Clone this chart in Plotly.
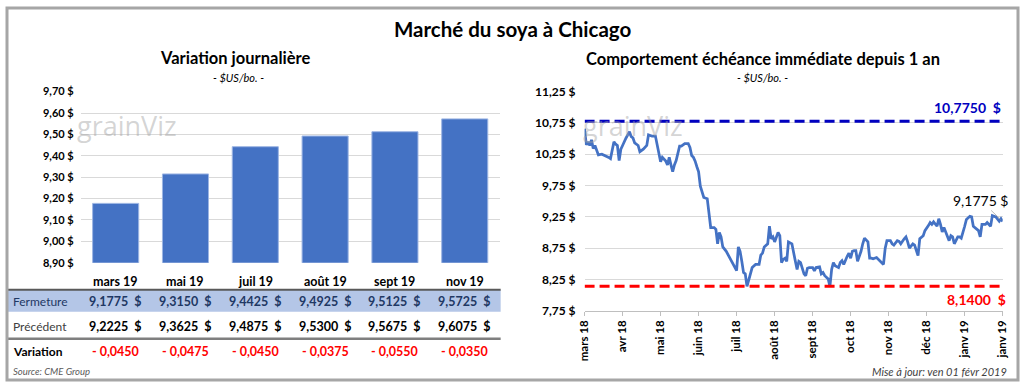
import plotly.graph_objects as go

# ---------------- DATA ----------------
categories = ["mars 19", "mai 19", "juil 19", "août 19", "sept 19", "nov 19"]
fermeture = [9.1775, 9.3150, 9.4425, 9.4925, 9.5125, 9.5725]
precedent = [9.2225, 9.3625, 9.4875, 9.5300, 9.5675, 9.6075]

# front-month price over one year (session number, $US/bo.)
sessions = [0, 1, 2, 3, 4, 5, 6, 8, 10, 12, 14, 15, 16, 17, 18, 19, 20, 21, 22, 23,
            24, 25, 26, 27, 28, 29, 31, 32, 34, 36, 37, 38, 39, 41, 42, 43, 44, 45, 47, 48,
            49, 50, 51, 52, 53, 55, 56, 58, 60, 61, 62, 63, 64, 65, 66, 67, 68, 69, 71, 72,
            73, 75, 76, 77, 78, 79, 80, 82, 84, 86, 88, 89, 90, 91, 92, 93, 94, 95, 96, 97,
            99, 101, 102, 103, 104, 106, 107, 108, 109, 110, 112, 113, 114, 115, 116, 117, 118, 120, 122, 123,
            124, 125, 127, 128, 129, 130, 132, 133, 134, 136, 137, 138, 139, 141, 142, 143, 144, 145, 147, 148,
            149, 150, 152, 153, 154, 155, 156, 157, 158, 160, 161, 162, 164, 165, 166, 167, 169, 170, 172, 173,
            174, 175, 177, 178, 179, 181, 182, 183, 185, 186, 187, 188, 190, 191, 193, 194, 196, 197, 199, 200,
            201, 202, 204, 205, 206, 207, 208, 209, 211, 212, 213, 214, 216, 217, 218, 220, 221, 223, 224, 225,
            227, 228, 229, 230, 232, 233, 235, 236, 238, 239, 240, 241, 242]
prices = [10.66, 10.40, 10.45, 10.39, 10.48, 10.34, 10.39, 10.24, 10.25, 10.23, 10.20, 10.18, 10.33, 10.45, 10.41, 10.39, 10.15, 10.33, 10.39, 10.46,
          10.51, 10.56, 10.61, 10.53, 10.51, 10.43, 10.39, 10.29, 10.33, 10.39, 10.56, 10.55, 10.54, 10.54, 10.41, 10.28, 10.13, 10.20, 10.14, 10.08,
          10.20, 10.08, 9.97, 10.08, 10.15, 10.38, 10.38, 10.42, 10.42, 10.36, 10.23, 10.20, 10.14, 10.05, 9.97, 9.74, 9.64, 9.56, 9.54, 9.31,
          9.08, 9.08, 9.05, 8.82, 9.00, 8.93, 8.77, 8.70, 8.59, 8.49, 8.39, 8.77, 8.70, 8.54, 8.36, 8.34, 8.14, 8.24, 8.34, 8.44,
          8.49, 8.49, 8.64, 8.67, 8.77, 8.82, 9.10, 8.90, 8.93, 8.85, 9.00, 8.95, 8.52, 8.57, 8.59, 8.54, 8.85, 8.82, 8.54, 8.41,
          8.54, 8.52, 8.34, 8.31, 8.43, 8.44, 8.44, 8.39, 8.44, 8.45, 8.34, 8.36, 8.31, 8.26, 8.14, 8.41, 8.52, 8.47, 8.44, 8.52,
          8.55, 8.49, 8.62, 8.67, 8.59, 8.70, 8.71, 8.71, 8.54, 8.70, 8.82, 8.91, 8.85, 8.59, 8.59, 8.58, 8.60, 8.57, 8.52, 8.49,
          8.75, 8.87, 8.87, 8.82, 8.80, 8.87, 8.86, 8.82, 8.90, 8.93, 8.85, 8.75, 8.82, 8.80, 8.63, 8.90, 8.95, 9.03, 9.11, 9.16,
          9.13, 9.17, 9.10, 9.22, 9.13, 9.01, 9.08, 9.00, 8.87, 8.95, 8.93, 8.82, 8.93, 8.93, 8.91, 9.10, 9.21, 9.26, 9.25, 9.10,
          9.06, 9.03, 8.93, 9.13, 9.13, 9.16, 9.10, 9.27, 9.25, 9.22, 9.18, 9.22, 9.1775]
year_high = 10.7750
year_low = 8.1400
month_labels = ["mars 18", "avr 18", "mai 18", "juin 18", "juil 18", "août 18",
                "sept 18", "oct 18", "nov 18", "déc 18", "janv 19", "janv 19"]
label_step = 22

W, H = 1024, 387
FONT = "Lato, 'Open Sans', sans-serif"
BLUE = "#4472C4"


def py(y):
    return 1 - y / H


def px(x):
    return x / W


def fmt(v, d):
    return f"{v:.{d}f}".replace(".", ",")


fig = go.Figure()

# ---------- left: bars ----------
fig.add_trace(go.Bar(x=categories, y=fermeture, xaxis="x", yaxis="y",
                     marker=dict(color=BLUE, line=dict(color="#9DB5E3", width=1)),
                     hoverinfo="skip", showlegend=False))

# ---------- right: line ----------
fig.add_trace(go.Scatter(x=sessions, y=prices, xaxis="x2", yaxis="y2", mode="lines",
                         line=dict(color=BLUE, width=2.75), showlegend=False,
                         hoverinfo="skip"))
fig.add_trace(go.Scatter(x=[sessions[0], sessions[-1]], y=[year_high, year_high],
                         xaxis="x2", yaxis="y2", mode="lines",
                         line=dict(color="#0000C0", width=3, dash="10px,5px"),
                         showlegend=False, hoverinfo="skip"))
fig.add_trace(go.Scatter(x=[sessions[0], sessions[-1]], y=[year_low, year_low],
                         xaxis="x2", yaxis="y2", mode="lines",
                         line=dict(color="#FF0000", width=3, dash="10px,5px"),
                         showlegend=False, hoverinfo="skip"))

tickfont_b = dict(family=FONT, size=11, color="#000", weight="bold")

fig.update_layout(
    width=W, height=H, autosize=False,
    margin=dict(l=0, r=0, t=0, b=0),
    paper_bgcolor="white", plot_bgcolor="white",
    separators=", ",
    font=dict(family=FONT, color="#000"),
    bargap=0.34,
    xaxis=dict(domain=[px(74.7), px(499)], showticklabels=False, showgrid=False,
               zeroline=False, showline=False, fixedrange=True),
    yaxis=dict(domain=[py(265), py(87)], range=[8.9, 9.7], dtick=0.1, tick0=8.9,
               tickformat=".2f", ticksuffix=" $", tickfont=tickfont_b,
               gridcolor="#D9D9D9", gridwidth=1, zeroline=False, showline=False,
               ticklabelstandoff=6),
    xaxis2=dict(domain=[px(585), px(1008.5)], range=[sessions[0], sessions[-1]],
                tickvals=list(range(sessions[0], sessions[-1] + 1, label_step)),
                ticktext=month_labels, tickangle=-90,
                tickfont=dict(family=FONT, size=11.5, color="#000", weight="bold"),
                showgrid=False, zeroline=False, showline=True, linecolor="#BFBFBF",
                linewidth=1, ticks="outside", ticklen=4, tickcolor="#BFBFBF",
                anchor="y2"),
    yaxis2=dict(domain=[py(315), py(87)], range=[7.75, 11.25], dtick=0.5, tick0=7.75,
                tickformat=".2f", ticksuffix=" $",
                tickfont=dict(family=FONT, size=12, color="#000", weight="bold"),
                gridcolor="#D9D9D9", gridwidth=1, zeroline=False, showline=False,
                anchor="x2", ticklabelstandoff=8),
)

shapes = []
# table band and rules
shapes.append(dict(type="rect", xref="paper", yref="paper", x0=0, x1=px(500),
                   y0=py(316), y1=py(293), fillcolor="#B4C6E7", line=dict(width=0),
                   layer="below"))
shapes.append(dict(type="line", xref="paper", yref="paper", x0=0, x1=px(500),
                   y0=py(293), y1=py(293), line=dict(color="#595959", width=2)))
shapes.append(dict(type="line", xref="paper", yref="paper", x0=0, x1=px(500),
                   y0=py(344), y1=py(344), line=dict(color="#7F7F7F", width=2.5)))
# outer border
shapes.append(dict(type="rect", xref="paper", yref="paper", x0=0, x1=1, y0=0, y1=1,
                   line=dict(color="#A6A6A6", width=3)))
fig.update_layout(shapes=shapes)

ann = []


def add_text(text, x, y, size, color="#000", xanchor="center", xref="paper",
             family=FONT):
    ann.append(dict(text=text, x=x, y=py(y), xref=xref, yref="paper",
                    xanchor=xanchor, yanchor="middle", showarrow=False,
                    font=dict(size=size, family=family, color=color)))


add_text("<b>Marché du soya à Chicago</b>", px(512), 22, 20.5)
add_text("<b>Variation journalière</b>", px(231), 52, 16.5)
add_text("<i>- $US/bo. -</i>", px(234), 72, 11)
add_text("<b>Comportement échéance immédiate depuis 1 an</b>", px(766), 53, 16.5)
add_text("<i>- $US/bo. -</i>", px(765), 72, 11)

# watermarks
for wx in (122, 634):
    add_text("grainViz", px(wx), 122, 27, color="rgba(160,160,160,0.45)",
             family="'Open Sans', sans-serif")

# table
for i, cat in enumerate(categories):
    add_text(f"<b>{cat}</b>", cat, 285, 12.5, xref="x")
    add_text(f"<b>{fmt(fermeture[i], 4)}\u00a0\u00a0$</b>", cat, 305, 12.5,
             color="#1F3864", xref="x")
    add_text(f"<b>{fmt(precedent[i], 4)}\u00a0\u00a0$</b>", cat, 331, 12.5, xref="x")
    d = fermeture[i] - precedent[i]
    sign = "-" if d < 0 else "+"
    add_text(f"<b>{sign} {fmt(abs(d), 4)}</b>", cat, 357, 12.5, color="#FF0000",
             xref="x")

add_text("Fermeture", px(4), 305, 12, color="#1F3864", xanchor="left")
add_text("Précédent", px(4), 331, 12, color="#404040", xanchor="left")
add_text("<b>Variation</b>", px(4), 357, 12, xanchor="left")
add_text("<i>Source: CME Group</i>", px(4), 378, 9.5, color="#595959", xanchor="left")
add_text("<i>Mise à jour: ven 01 févr 2019</i>", px(1015), 378, 11, color="#404040",
         xanchor="right")

# right chart labels
ann.append(dict(text=f"<b>{fmt(year_high, 4)}\u00a0\u00a0$</b>", x=sessions[-1], xref="x2",
                y=year_high, yref="y2", xanchor="right", yanchor="bottom", yshift=3,
                showarrow=False, font=dict(size=14, family=FONT, color="#0000C0")))
ann.append(dict(text=f"<b>{fmt(year_low, 4)}\u00a0\u00a0$</b>", x=sessions[-1], xref="x2",
                y=year_low, yref="y2", xanchor="right", yanchor="top", yshift=-3,
                xshift=5, showarrow=False,
                font=dict(size=14, family=FONT, color="#FF0000")))
ann.append(dict(text=f"{fmt(prices[-1], 4)} $", x=sessions[-1], xref="x2",
                y=prices[-1], yref="y2", ax=-22, ay=-21, showarrow=True,
                arrowhead=0, arrowwidth=0.8, arrowcolor="#A6A6A6", standoff=3,
                font=dict(size=14, family=FONT, color="#000")))

fig.update_layout(annotations=ann)

fig.write_html("out.html", config={"displayModeBar": False, "responsive": False},
               default_width="1024px", default_height="387px",
               post_script="document.documentElement.style.margin='0';"
                           "document.body.style.margin='0';")
